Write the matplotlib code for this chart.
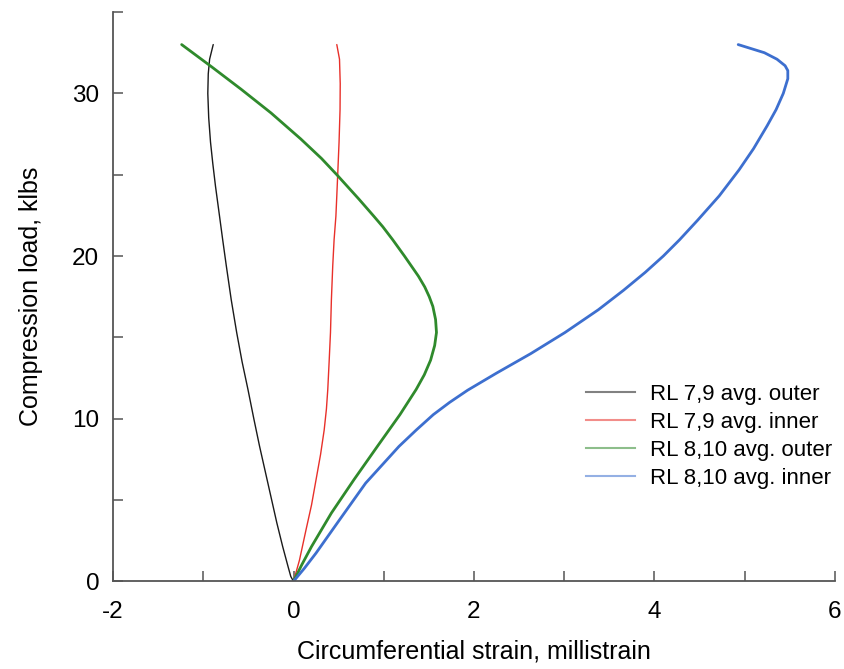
import matplotlib
matplotlib.use("Agg")
import matplotlib.pyplot as plt
from matplotlib.lines import Line2D

plt.rcParams['font.family'] = ['Liberation Sans', 'DejaVu Sans']
plt.rcParams['axes.unicode_minus'] = False

# load (klbs) vs circumferential strain (millistrain)
load_79_outer = [0, 0.3, 0.9, 2.14, 3.6, 5.2, 6.8, 8.3, 10.0, 11.8, 13.5, 15.3, 17.3, 19.4,
                 21.0, 22.45, 24.3, 25.7, 27.0, 28.5, 30.0, 31.2, 32.1, 33.0]
strain_79_outer = [0, -0.03, -0.06, -0.12, -0.185, -0.25, -0.315, -0.376, -0.44, -0.505, -0.57,
                   -0.63, -0.69, -0.745, -0.785, -0.82, -0.865, -0.895, -0.92, -0.94, -0.95,
                   -0.945, -0.93, -0.89]

load_79_inner = [0, 1.3, 3.2, 4.7, 6.25, 7.8, 9.3, 10.6, 11.8, 13.5, 15.3, 17.3, 19.4, 21.0,
                 22.45, 23.7, 25.0, 27.0, 29.0, 30.6, 32.1, 33.0]
strain_79_inner = [0, 0.066, 0.14, 0.2, 0.25, 0.30, 0.34, 0.365, 0.38, 0.395, 0.41, 0.42,
                   0.435, 0.45, 0.47, 0.48, 0.49, 0.505, 0.516, 0.518, 0.51, 0.48]

load_810_outer = [0, 1.0, 2.14, 4.2, 6.25, 8.3, 10.25, 11.8, 12.7, 13.6, 14.5, 15.3, 16.1, 16.9,
                  17.5, 18.1, 18.76, 20.0, 21.0, 21.8, 22.45, 23.5, 25.0, 26.0, 27.2, 28.0,
                  28.8, 30.25, 31.6, 33.0]
strain_810_outer = [0, 0.09, 0.2, 0.42, 0.67, 0.93, 1.18, 1.36, 1.45, 1.52, 1.565, 1.585, 1.575,
                    1.545, 1.505, 1.455, 1.385, 1.23, 1.10, 0.99, 0.89, 0.725, 0.48, 0.31, 0.08,
                    -0.085, -0.25, -0.58, -0.90, -1.24]

load_810_inner = [0, 0.8, 1.74, 3.78, 6.04, 8.3, 9.3, 10.25, 11.0, 11.75, 12.8, 14.0, 15.3, 16.7,
                  17.9, 19.0, 20.0, 21.0, 22.2, 23.7, 25.3, 26.6, 28.0, 29.0, 30.0, 30.9, 31.4,
                  31.7, 32.1, 32.5, 33.0]
strain_810_inner = [0, 0.12, 0.25, 0.51, 0.80, 1.17, 1.36, 1.55, 1.73, 1.93, 2.25, 2.63, 3.01,
                    3.38, 3.66, 3.90, 4.10, 4.28, 4.48, 4.72, 4.94, 5.10, 5.25, 5.35, 5.43, 5.48,
                    5.48, 5.45, 5.36, 5.22, 4.93]

labels = ['RL 7,9 avg. outer', 'RL 7,9 avg. inner', 'RL 8,10 avg. outer', 'RL 8,10 avg. inner']
colors = ['#1a1a1a', '#e8302a', '#2f8a2c', '#3d6fcf']
widths = [1.0, 1.0, 2.0, 2.0]

fig = plt.figure(figsize=(8.44, 6.69), dpi=100)
ax = fig.add_axes([0.134, 0.131, 0.855, 0.851])

series = [(strain_79_outer, load_79_outer), (strain_79_inner, load_79_inner),
          (strain_810_outer, load_810_outer), (strain_810_inner, load_810_inner)]
for (x, y), c, w in zip(series, colors, widths):
    ax.plot(x, y, color=c, lw=w, solid_capstyle='round', solid_joinstyle='round')

ax.set_xlim(-2, 6)
ax.set_ylim(0, 35)
ax.set_xticks(range(-2, 7))
ax.set_xticklabels([str(v) if v % 2 == 0 else '' for v in range(-2, 7)])
ax.set_yticks(range(0, 36, 5))
ax.set_yticklabels([str(v) if v % 10 == 0 else '' for v in range(0, 36, 5)])

for s in ['top', 'right']:
    ax.spines[s].set_visible(False)
for s in ['left', 'bottom']:
    ax.spines[s].set_color('#555555')
    ax.spines[s].set_linewidth(1.3)
ax.tick_params(axis='both', direction='in', length=7.5, width=1.1, color='#555555',
               labelsize=17.5)
ax.tick_params(axis='x', pad=14)
ax.tick_params(axis='y', pad=10)

ax.set_xlabel('Circumferential strain, millistrain', fontsize=18, labelpad=12)
ax.set_ylabel('Compression load, klbs', fontsize=18, labelpad=21)

handles = [Line2D([], [], color=c, lw=1.5, alpha=0.55) for c in colors]
ax.legend(handles, labels, loc='center left', bbox_to_anchor=(0.640, 0.255), frameon=False,
          fontsize=16, handlelength=2.2, handletextpad=0.7, labelspacing=0.32, borderpad=0)

fig.savefig('out.png', dpi=100)
